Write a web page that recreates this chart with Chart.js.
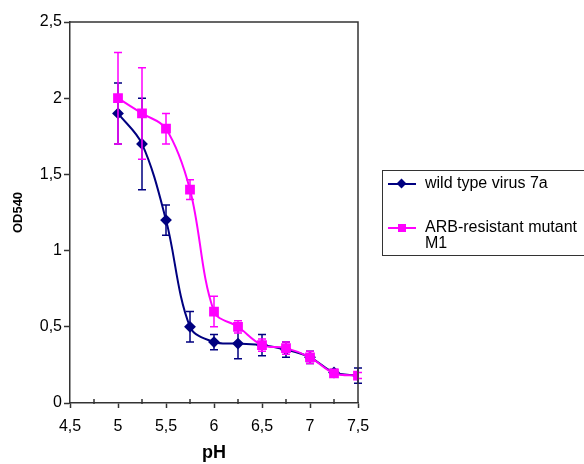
<!DOCTYPE html>
<html lang="en">
<head>
    <meta charset="UTF-8">
    <title>OD540 vs pH</title>
    <style>
        body {
            margin: 0;
            padding: 0;
            background: #ffffff;
            font-family: "Liberation Sans", Arial, sans-serif;
            overflow: hidden;
        }
        .wrap {
            position: relative;
            width: 584px;
            height: 464px;
        }
        .legend {
            position: absolute;
            left: 382px;
            top: 170px;
            width: 240px;
            height: 84px;
            border: 1px solid #333;
            font-size: 16px;
            color: #000;
        }
        .legend .row {
            position: absolute;
            left: 0;
            white-space: nowrap;
        }
        .legend .sample {
            position: absolute;
            left: 5px;
            width: 28px;
            height: 2px;
        }
        .legend .mark {
            position: absolute;
            left: 15px;
            width: 8px;
            height: 8px;
        }
        .legend .label {
            position: absolute;
            left: 42px;
            line-height: 16px;
        }
    </style>
</head>
<body>
    <div class="wrap">
        <canvas id="chart" width="584" height="464"></canvas>
        <div class="legend">
            <div class="row" style="top:13px">
                <div class="sample" style="background:#000080;top:-1px"></div>
                <div class="mark" style="background:#000080;top:-4px;width:7px;height:7px;left:15px;transform:rotate(45deg)"></div>
                <div class="label" style="top:-9px">wild type virus 7a</div>
            </div>
            <div class="row" style="top:57px">
                <div class="sample" style="background:#ff00ff;top:-1px"></div>
                <div class="mark" style="background:#ff00ff;top:-4px"></div>
                <div class="label" style="top:-9px">ARB-resistant mutant<br>M1</div>
            </div>
        </div>
    </div>

    <script src="https://cdn.jsdelivr.net/npm/chart.js"></script>
    <script>
        // pH values (x)
        const phValues = [5, 5.25, 5.5, 5.75, 6, 6.25, 6.5, 6.75, 7, 7.25, 7.5];

        // OD540 - wild type virus 7a
        const wildType = [1.9, 1.7, 1.2, 0.5, 0.4, 0.39, 0.38, 0.35, 0.3, 0.2, 0.18];
        const wildTypeErr = [0.2, 0.3, 0.1, 0.1, 0.05, 0.1, 0.07, 0.05, 0.04, 0.02, 0.05];

        // OD540 - ARB-resistant mutant M1
        const mutant = [2.0, 1.9, 1.8, 1.4, 0.6, 0.5, 0.38, 0.36, 0.3, 0.195, 0.18];
        const mutantErr = [0.3, 0.3, 0.1, 0.065, 0.1, 0.04, 0.04, 0.04, 0.04, 0.01, 0.02];

        const xTicks = [4.5, 5, 5.5, 6, 6.5, 7, 7.5];
        const yTicks = [0, 0.5, 1, 1.5, 2, 2.5];

        const axisColor = '#333333';

        function toPoints(ys) {
            return phValues.map((x, i) => ({ x: x, y: ys[i] }));
        }

        function comma(v) {
            return String(v).replace('.', ',');
        }

        // error bars are drawn under each series' own line and markers
        const errorBars = {
            id: 'errorBars',
            beforeDatasetDraw(chart, args) {
                const ds = chart.data.datasets[args.index];
                if (!ds.errors) return;
                const xs = chart.scales.x;
                const ys = chart.scales.y;
                const c = chart.ctx;
                c.save();
                c.strokeStyle = ds.borderColor;
                c.lineWidth = 1.5;
                ds.data.forEach((p, i) => {
                    const e = ds.errors[i];
                    const px = xs.getPixelForValue(p.x);
                    const top = ys.getPixelForValue(p.y + e);
                    const bot = ys.getPixelForValue(p.y - e);
                    c.beginPath();
                    c.moveTo(px, top);
                    c.lineTo(px, bot);
                    c.moveTo(px - 4, top);
                    c.lineTo(px + 4, top);
                    c.moveTo(px - 4, bot);
                    c.lineTo(px + 4, bot);
                    c.stroke();
                });
                c.restore();
            }
        };

        // frame on top/right and short minor ticks on the x axis
        const frame = {
            id: 'frame',
            afterDraw(chart) {
                const a = chart.chartArea;
                const c = chart.ctx;
                const xs = chart.scales.x;
                c.save();
                c.strokeStyle = axisColor;
                c.lineWidth = 1.5;
                c.beginPath();
                c.moveTo(a.left, a.top);
                c.lineTo(a.right, a.top);
                c.lineTo(a.right, a.bottom);
                c.stroke();
                c.beginPath();
                xs.ticks.forEach(t => {
                    if (Math.abs(t.value * 2 - Math.round(t.value * 2)) > 1e-6) {
                        const px = xs.getPixelForValue(t.value);
                        c.moveTo(px, a.bottom - 4);
                        c.lineTo(px, a.bottom + 1);
                    }
                });
                c.stroke();
                c.restore();
            }
        };

        new Chart(document.getElementById('chart'), {
            type: 'line',
            data: {
                datasets: [{
                    label: 'wild type virus 7a',
                    data: toPoints(wildType),
                    errors: wildTypeErr,
                    borderColor: '#000080',
                    backgroundColor: '#000080',
                    borderWidth: 2,
                    pointStyle: 'rectRot',
                    pointRadius: 4.5,
                    tension: 0.35,
                    order: 1
                }, {
                    label: 'ARB-resistant mutant M1',
                    data: toPoints(mutant),
                    errors: mutantErr,
                    borderColor: '#ff00ff',
                    backgroundColor: '#ff00ff',
                    borderWidth: 2,
                    pointStyle: 'rect',
                    pointRadius: 5.5,
                    tension: 0.35,
                    order: 0
                }]
            },
            options: {
                responsive: false,
                animation: false,
                events: [],
                layout: {
                    padding: { top: 22, right: 226, left: 0, bottom: 0 }
                },
                plugins: {
                    legend: { display: false },
                    tooltip: { enabled: false }
                },
                scales: {
                    x: {
                        type: 'linear',
                        min: 4.5,
                        max: 7.5,
                        afterFit(scale) { scale.height = 61; },
                        afterBuildTicks(scale) {
                            const t = [];
                            for (let i = 0; i <= 12; i++) t.push({ value: 4.5 + i * 0.25 });
                            scale.ticks = t;
                        },
                        grid: {
                            drawOnChartArea: false,
                            tickLength: 5,
                            tickWidth: 1.5,
                            tickColor: ctx => xTicks.includes(ctx.tick.value) ? axisColor : 'rgba(0,0,0,0)'
                        },
                        border: { color: axisColor, width: 1.5 },
                        ticks: {
                            autoSkip: false,
                            maxRotation: 0,
                            padding: 9,
                            color: '#000',
                            font: { family: '"Liberation Sans", Arial, sans-serif', size: 16 },
                            callback: v => xTicks.includes(v) ? comma(v) : ''
                        },
                        title: {
                            display: true,
                            text: 'pH',
                            color: '#000',
                            padding: { top: 0, bottom: 0 },
                            font: { family: '"Liberation Sans", Arial, sans-serif', size: 18, weight: 'bold' }
                        }
                    },
                    y: {
                        min: 0,
                        max: 2.5,
                        afterFit(scale) { scale.width = 70; },
                        afterBuildTicks(scale) {
                            scale.ticks = yTicks.map(v => ({ value: v }));
                        },
                        grid: {
                            drawOnChartArea: false,
                            tickLength: 6,
                            tickWidth: 1.5,
                            tickColor: axisColor
                        },
                        border: { color: axisColor, width: 1.5 },
                        ticks: {
                            padding: 2,
                            color: '#000',
                            font: { family: '"Liberation Sans", Arial, sans-serif', size: 16 },
                            callback: v => comma(v)
                        },
                        title: {
                            display: true,
                            text: 'OD540',
                            color: '#000',
                            padding: { top: 11, bottom: 0 },
                            font: { family: '"Liberation Sans", Arial, sans-serif', size: 13, weight: 'bold' }
                        }
                    }
                }
            },
            plugins: [errorBars, frame]
        });
    </script>
</body>
</html>
